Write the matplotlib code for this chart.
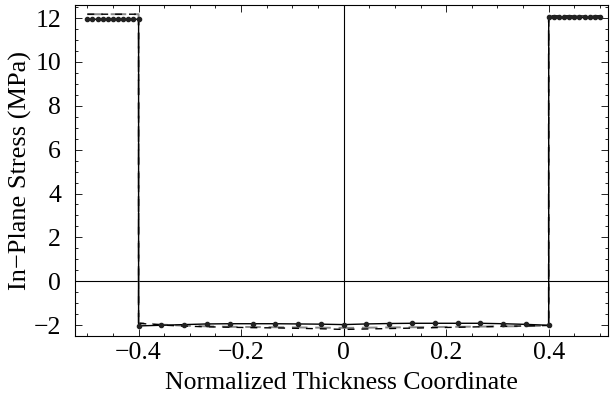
import numpy as np
import matplotlib
matplotlib.use("Agg")
import matplotlib.pyplot as plt
from matplotlib.ticker import MultipleLocator

plt.rcParams['font.family'] = ['Liberation Serif', 'DejaVu Serif']

# outer layers (top region): x from -0.5..-0.4 and 0.4..0.5
x_left = [-0.50, -0.49, -0.48, -0.47, -0.46, -0.45, -0.44, -0.43, -0.42, -0.41, -0.40]
x_right = [0.40, 0.41, 0.42, 0.43, 0.44, 0.45, 0.46, 0.47, 0.48, 0.49, 0.50]
dots_left = [11.95] * 11
dots_right = [12.03] * 11
dash_left = [12.18] * 11
dash_right = [12.10] * 11

# core region: 19 points from -0.4 to 0.4
x_core = [-0.4, -0.3556, -0.3111, -0.2667, -0.2222, -0.1778, -0.1333, -0.0889, -0.0444, 0.0,
          0.0444, 0.0889, 0.1333, 0.1778, 0.2222, 0.2667, 0.3111, 0.3556, 0.4]
dots_core = [-2.04, -2.01, -1.98, -1.95, -1.94, -1.94, -1.94, -1.95, -1.96, -1.98,
             -1.95, -1.93, -1.92, -1.92, -1.92, -1.92, -1.94, -1.97, -2.01]
dash_core = [-1.92, -2.00, -2.05, -2.08, -2.10, -2.12, -2.13, -2.15, -2.17, -2.20,
             -2.18, -2.16, -2.14, -2.12, -2.10, -2.08, -2.06, -2.04, -2.02]
grey_core = [-1.90, -1.98, -2.03, -2.06, -2.08, -2.09, -2.10, -2.11, -2.12, -2.13,
             -2.12, -2.11, -2.10, -2.09, -2.08, -2.07, -2.06, -2.05, -2.03]

fig = plt.figure(figsize=(6.1, 4.0), dpi=100)
ax = fig.add_axes([0.123, 0.16, 0.874, 0.8275])

# axes lines
ax.axhline(0, color='black', lw=0.8, zorder=1)
ax.axvline(0, color='black', lw=0.8, zorder=1)

xs = np.array(x_left + x_core + x_right)
ax.plot(xs, dash_left + grey_core + dash_right, color='#888888', lw=1.4,
        ls=(0, (8, 4)), zorder=2)
ax.plot(xs, dash_left + dash_core + dash_right, color='black', lw=1.0,
        ls=(0, (5, 5)), zorder=2)
ax.plot(xs, dots_left + dots_core + dots_right, color='black', lw=1.0, zorder=3)
ax.plot(x_left + x_core + x_right, dots_left + dots_core + dots_right, 'o',
        color='#222222', ms=3.0, zorder=4)

ax.set_xlim(-0.524, 0.516)
ax.set_ylim(-2.5, 12.6)
ax.xaxis.set_major_locator(MultipleLocator(0.2))
ax.xaxis.set_minor_locator(MultipleLocator(0.05))
ax.yaxis.set_major_locator(MultipleLocator(2))
ax.yaxis.set_minor_locator(MultipleLocator(0.5))
ax.tick_params(which='both', direction='in', top=True, right=True, width=0.6)
ax.tick_params(which='major', length=5, labelsize=18.5)
ax.tick_params(which='minor', length=2.5)
ax.tick_params(axis='y', which='major', pad=10)
ax.tick_params(axis='x', which='major', pad=4)
ax.set_xticks([-0.4, -0.2, 0, 0.2, 0.4])
ax.set_xticklabels(['\u22120.4', '\u22120.2', '0', '0.2', '0.4'])
ax.set_yticks([-2, 0, 2, 4, 6, 8, 10, 12])
ax.set_yticklabels(['\u22122', '0', '2', '4', '6', '8', '10', '12'])
for s in ax.spines.values():
    s.set_linewidth(0.8)

ax.set_xlabel('Normalized Thickness Coordinate', fontsize=18.5, labelpad=6)
ax.set_ylabel('In\u2212Plane Stress (MPa)', fontsize=19, labelpad=1)

fig.savefig('out.png', dpi=100)
